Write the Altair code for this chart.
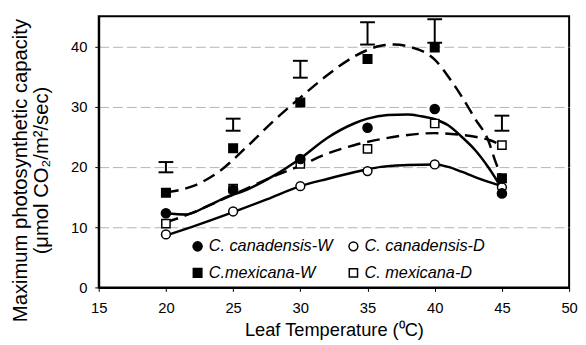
import altair as alt
import pandas as pd

# ---- data ----
series_names = ["C. canadensis-W", "C. canadensis-D", "C.mexicana-W", "C. mexicana-D"]
temps = [20, 25, 30, 35, 40, 45]
can_W = [12.3, 16.2, 21.3, 26.5, 29.6, 15.6]
can_D = [8.8, 12.6, 16.8, 19.3, 20.4, 16.6]
mex_W = [15.7, 23.1, 30.7, 37.9, 39.8, 18.1]
mex_D = [10.6, 16.4, 20.5, 23.0, 27.2, 23.6]

# error bars (I-bars above the points)
eb_low = [19.1, 26.0, 34.8, 40.3, 40.6, 26.0]
eb_high = [20.8, 28.0, 37.6, 44.0, 44.5, 28.5]

# fitted curves
canW_fit_x = [20, 21.5, 23, 24.5, 26, 28, 30, 32, 34, 35, 36.5, 38, 39, 40, 41, 42, 43, 44, 45]
canW_fit_y = [12.3, 12.1, 13.4, 15.0, 16.2, 18.5, 21.4, 24.8, 27.2, 28.0, 28.6, 28.7, 28.4, 27.9, 26.9, 25.0, 22.8, 19.9, 16.4]
canD_fit_x = [20, 22, 25, 27.5, 30, 32, 34, 35, 36, 38, 40, 41, 42, 43, 44, 45]
canD_fit_y = [8.6, 10.1, 12.5, 14.6, 16.8, 18.0, 19.1, 19.6, 20.0, 20.3, 20.4, 20.0, 19.2, 18.3, 17.5, 16.8]
mexW_fit_x = [20, 22, 24, 26, 28, 30, 32, 34, 36, 37, 38, 40, 41, 42, 43, 44, 44.5, 45]
mexW_fit_y = [15.8, 16.8, 19.3, 23.3, 27.6, 31.5, 35.2, 38.3, 40.1, 40.3, 40.0, 37.8, 35.0, 31.7, 28.0, 24.3, 21.0, 18.1]
mexD_fit_x = [20, 22, 24, 26, 28, 30, 32, 34, 36, 38, 40, 42, 43, 44, 45]
mexD_fit_y = [10.8, 12.4, 14.4, 16.4, 18.4, 20.2, 22.2, 23.6, 24.6, 25.3, 25.6, 25.3, 25.0, 24.5, 23.6]

x_ticks = [15, 20, 25, 30, 35, 40, 45, 50]
y_ticks = [0, 5, 10, 15, 20, 25, 30, 35, 40, 45]

# ---- tables ----
rows = []
for name, vals in [(series_names[3], mex_D), (series_names[1], can_D),
                   (series_names[0], can_W), (series_names[2], mex_W)]:
    for t, v in zip(temps, vals):
        rows.append({"temp": t, "value": v, "series": name})
pts = pd.DataFrame(rows)

fit_rows = []
for name, xs_, ys_ in [(series_names[0], canW_fit_x, canW_fit_y),
                       (series_names[1], canD_fit_x, canD_fit_y),
                       (series_names[2], mexW_fit_x, mexW_fit_y),
                       (series_names[3], mexD_fit_x, mexD_fit_y)]:
    for i, (a, b) in enumerate(zip(xs_, ys_)):
        fit_rows.append({"temp": a, "value": b, "series": name, "i": i,
                         "dashed": "mexicana" in name})
fits = pd.DataFrame(fit_rows)

eb = pd.DataFrame({"temp": temps, "low": eb_low, "high": eb_high})

FONT = "Liberation Sans"

xs = alt.Scale(domain=[15, 50], nice=False, zero=False, padding=0)
ys = alt.Scale(domain=[0, 45], nice=False, padding=0)

x_axis = alt.Axis(values=x_ticks, grid=False, title="Leaf Temperature (\u2070C)",
                  labelFontSize=15, titleFontSize=18.5, labelFont=FONT, titleFont=FONT,
                  labelColor="black", titleColor="black", tickColor="black", tickSize=4,
                  domainColor="black", domainWidth=2, labelBaseline="alphabetic", labelFlush=False,
                  labelPadding=21, titleBaseline="alphabetic", titleY=49, titleFontWeight="normal")
y_axis = alt.Axis(values=y_ticks, grid=True, gridColor="#b4b4b4", gridDash=[10, 4], gridWidth=1,
                  title=["Maximum photosynthetic capacity", "(\u03bcmol CO\u2082/m\u00b2/sec)"],
                  labelFontSize=15, titleFontSize=20.5, labelFont=FONT, titleFont=FONT,
                  labelColor="black", titleColor="black", tickColor="black", tickSize=4,
                  domainColor="black", domainWidth=2, labelPadding=8, labelFlush=False,
                  titleX=-73, titleY=156, titleBaseline="alphabetic", titleLineHeight=21.5,
                  titleAlign="center", titleFontWeight="normal")

base_x = alt.X("temp:Q", scale=xs, axis=x_axis)
base_y = alt.Y("value:Q", scale=ys, axis=y_axis)

solid = alt.Chart(fits[~fits["dashed"]]).mark_line(color="black", strokeWidth=2.5, interpolate="monotone").encode(
    x=base_x, y=base_y, detail="series:N", order="i:Q")
dashed = alt.Chart(fits[fits["dashed"]]).mark_line(color="black", strokeWidth=2.5, strokeDash=[13, 7],
                                                   interpolate="monotone").encode(
    x=alt.X("temp:Q", scale=xs), y=alt.Y("value:Q", scale=ys), detail="series:N", order="i:Q")

rule = alt.Chart(eb).mark_rule(color="black", strokeWidth=2).encode(
    x=alt.X("temp:Q", scale=xs), y=alt.Y("low:Q", scale=ys), y2="high:Q")
cap_lo = alt.Chart(eb).mark_tick(orient="horizontal", color="black", size=15, thickness=2, opacity=1).encode(
    x=alt.X("temp:Q", scale=xs), y=alt.Y("low:Q", scale=ys))
cap_hi = alt.Chart(eb).mark_tick(orient="horizontal", color="black", size=15, thickness=2, opacity=1).encode(
    x=alt.X("temp:Q", scale=xs), y=alt.Y("high:Q", scale=ys))

legend = alt.Legend(title=None, orient="none", legendX=92, legendY=225, direction="horizontal",
                    columns=2, labelFont=FONT, labelFontSize=16.5, labelFontStyle="italic",
                    labelColor="black", symbolStrokeColor="black", symbolStrokeWidth=1.5,
                    columnPadding=12, rowPadding=10, labelOffset=3, padding=0, labelLimit=300)

dom = series_names
points = alt.Chart(pts).mark_point(filled=True, opacity=1, strokeWidth=1.5).encode(
    x=alt.X("temp:Q", scale=xs),
    y=alt.Y("value:Q", scale=ys),
    shape=alt.Shape("series:N", scale=alt.Scale(domain=dom, range=["circle", "circle", "square", "square"]),
                    legend=legend),
    fill=alt.Fill("series:N", scale=alt.Scale(domain=dom, range=["black", "white", "black", "white"]),
                  legend=legend),
    stroke=alt.Stroke("series:N", scale=alt.Scale(domain=dom, range=["black", "black", "black", "black"]),
                      legend=legend),
    size=alt.Size("series:N", scale=alt.Scale(domain=dom, range=[85, 70, 121, 100]),
                  legend=legend),
    order=alt.Order("ord:Q"),
).transform_window(ord="row_number()")

chart = alt.layer(solid, dashed, rule, cap_lo, cap_hi, points).properties(
    width=477, height=275,
    autosize=alt.AutoSizeParams(type="none"),
    padding={"left": 92, "top": 6, "right": 9, "bottom": 52},
    background="white",
).configure_view(stroke="black", strokeWidth=2)

chart.save("out.html", embed_options={"renderer": "svg", "actions": False})
